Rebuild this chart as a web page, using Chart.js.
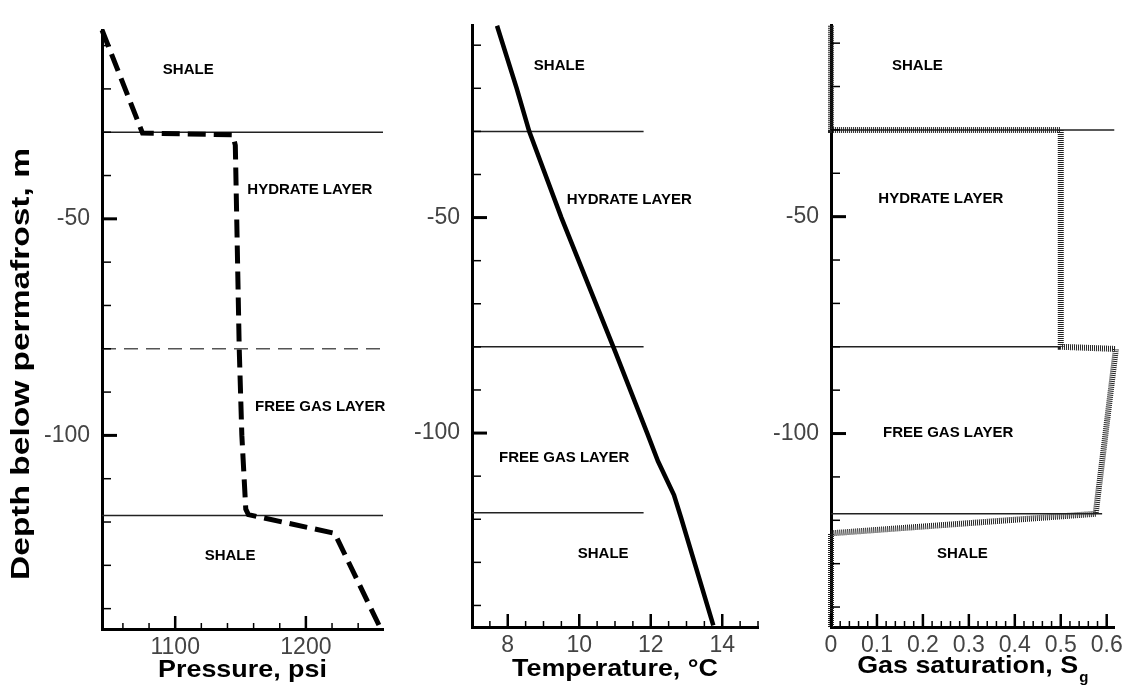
<!DOCTYPE html>
<html>
<head>
<meta charset="utf-8">
<script src="https://cdn.jsdelivr.net/npm/chart.js@4"></script>
<style>
  html, body { margin: 0; padding: 0; background: #fff; }
  #wrap { position: relative; width: 1128px; height: 690px; }
  .panel { position: absolute; top: 0; height: 690px; }
</style>
</head>
<body>
<div id="wrap">
  <div class="panel" style="left:0;width:400px"><canvas id="pressureChart"></canvas></div>
  <div class="panel" style="left:400px;width:370px"><canvas id="tempChart"></canvas></div>
  <div class="panel" style="left:770px;width:358px"><canvas id="gasChart"></canvas></div>
</div>
<script>
// --- data (depth in m below permafrost) ---
const pressurePsi   = [1044, 1075, 1144, 1146, 1149, 1151, 1154, 1156, 1222, 1257];
const pressureDepth = [-6.4, -30.2, -30.6, -33, -80, -100, -117, -118.3, -122.6, -144.5];

const temperatureC     = [7.7, 8.25, 8.6, 9.5, 11.0, 11.9, 12.2, 12.65, 12.85, 13.75];
const temperatureDepth = [-5.5, -20, -30, -50, -81, -100, -106.5, -114.4, -119.7, -144.6];

const gasSaturation = [0, 0, 0.5, 0.5, 0.62, 0.576, 0, 0];
const gasSatDepth   = [-6, -30, -30, -80, -80.5, -118.5, -123, -144.6];

// layer boundaries: hydrate top, hydrate base, free gas base
const layerDepths = [-30, -80, -118.5];
const pressureLayerEnd = [1259, 1259, 1259];
const tempLayerEnd     = [11.8, 11.8, 11.8];
const gasLayerEnd      = [0.617, 0.5, 0.59];

const layerNames = ["SHALE", "HYDRATE LAYER", "FREE GAS LAYER", "SHALE"];
const pressureLabelX = [1110, 1203, 1211, 1142];
const pressureLabelY = [-15.6, -43.3, -93.5, -127.7];
const tempLabelX = [9.44, 11.4, 9.58, 10.67];
const tempLabelY = [-14.7, -45.9, -105.7, -128.1];
const gasLabelX = [0.188, 0.239, 0.255, 0.286];
const gasLabelY = [-15.2, -45.8, -99.8, -127.7];

// tick labels
const depthTicks = [-50, -100];
const pressureTicks = [1100, 1200];
const tempTicks = [8, 10, 12, 14];
const gasTicks = [0, 0.1, 0.2, 0.3, 0.4, 0.5, 0.6];

const FONT = '"Liberation Sans", Arial, sans-serif';

function steps(from, to, step) {
  const out = [];
  for (let v = from; v <= to + 1e-9; v += step) out.push(+v.toFixed(4));
  return out;
}
function pts(xs, ys) { return xs.map((x, i) => ({ x: x, y: ys[i] })); }

// inward tick marks
const innerTicks = {
  id: "innerTicks",
  afterDraw(chart, args, o) {
    const { ctx, chartArea: a, scales: { x, y } } = chart;
    ctx.save();
    ctx.strokeStyle = "#000";
    const mark = (vals, len, w, isX) => {
      ctx.lineWidth = w;
      vals.forEach(v => {
        ctx.beginPath();
        if (isX) {
          const px = x.getPixelForValue(v);
          ctx.moveTo(px, a.bottom); ctx.lineTo(px, a.bottom - len);
        } else {
          const py = y.getPixelForValue(v);
          ctx.moveTo(a.left, py); ctx.lineTo(a.left + len, py);
        }
        ctx.stroke();
      });
    };
    mark(o.xMinor, 6, 1.5, true);
    mark(o.xMajor, 13, 2.5, true);
    mark(o.yMinor, 9, 1.5, false);
    mark(o.yMajor, 15, 3, false);
    ctx.restore();
  }
};

const layerLabels = {
  id: "layerLabels",
  afterDatasetsDraw(chart, args, o) {
    const { ctx, scales: { x, y } } = chart;
    ctx.save();
    ctx.fillStyle = "#000";
    ctx.font = "bold 15px " + FONT;
    ctx.textAlign = "center";
    ctx.textBaseline = "middle";
    layerNames.forEach((t, i) => {
      ctx.fillText(t, x.getPixelForValue(o.xs[i]), y.getPixelForValue(o.ys[i]));
    });
    ctx.restore();
  }
};

const axisText = {
  id: "axisText",
  afterDraw(chart, args, o) {
    const { ctx, chartArea: a } = chart;
    ctx.save();
    ctx.fillStyle = "#000";
    ctx.font = "bold 24px " + FONT;
    ctx.textBaseline = "alphabetic";
    const sx = 1.12;
    const cx = (a.left + a.right) / 2;
    const w = ctx.measureText(o.x).width * sx;
    let subW = 0;
    if (o.sub) {
      ctx.font = "bold 15px " + FONT;
      subW = ctx.measureText(o.sub).width + 1;
      ctx.font = "bold 24px " + FONT;
    }
    const x0 = cx - (w + subW) / 2;
    ctx.save();
    ctx.translate(x0, o.base);
    ctx.scale(sx, 1);
    ctx.textAlign = "left";
    ctx.fillText(o.x, 0, 0);
    ctx.restore();
    if (o.sub) {
      ctx.font = "bold 15px " + FONT;
      ctx.textAlign = "left";
      ctx.fillText(o.sub, x0 + w + 1, o.base + 9);
    }
    if (o.y) {
      ctx.save();
      ctx.font = "bold 25px " + FONT;
      ctx.translate(o.yPos[0], o.yPos[1]);
      ctx.rotate(-Math.PI / 2);
      ctx.scale(1.34, 1);
      ctx.textAlign = "center";
      ctx.textBaseline = "middle";
      ctx.fillText(o.y, 0, 0);
      ctx.restore();
    }
    ctx.restore();
  }
};

function axis(min, max, labels, pad, fit) {
  return {
    type: "linear",
    min: min,
    max: max,
    grid: { display: false, drawTicks: false },
    border: { display: true, color: "#000", width: 3 },
    ticks: {
      font: { size: 23, family: FONT },
      color: "#444",
      padding: pad,
      maxRotation: 0,
      autoSkip: false,
      callback: v => String(v)
    },
    afterBuildTicks: s => { s.ticks = labels.map(v => ({ value: v })); },
    afterFit: fit
  };
}

function makePanel(id, cfg) {
  const boundaries = layerDepths.map((d, i) => ({
    data: [{ x: cfg.xMin, y: d }, { x: cfg.layerEnd[i], y: d }],
    borderColor: cfg.dashMid && i === 1 ? "#555" : "#222",
    borderWidth: 1.5,
    borderDash: cfg.dashMid && i === 1 ? [14, 8] : [],
    pointRadius: 0
  }));
  new Chart(document.getElementById(id).getContext("2d"), {
    type: "line",
    data: {
      datasets: [
        Object.assign({ data: cfg.curve, pointRadius: 0, tension: 0, fill: false, clip: false }, cfg.style)
      ].concat(boundaries)
    },
    options: {
      responsive: true,
      maintainAspectRatio: false,
      animation: false,
      layout: { padding: { top: cfg.top, right: cfg.right, left: 0, bottom: 0 } },
      plugins: {
        legend: { display: false },
        tooltip: { enabled: false },
        innerTicks: {
          xMinor: cfg.xMinor, xMajor: cfg.xTicks,
          yMinor: steps(-140, -10, 10), yMajor: depthTicks
        },
        layerLabels: { xs: cfg.labelX, ys: cfg.labelY },
        axisText: cfg.titles
      },
      scales: {
        x: axis(cfg.xMin, cfg.xMax, cfg.xTicks, 5, s => { s.height = cfg.xAxisH; }),
        y: axis(cfg.yMin, cfg.yMax, depthTicks, 12, s => { s.width = cfg.yAxisW; })
      }
    },
    plugins: [innerTicks, layerLabels, axisText]
  });
}

makePanel("pressureChart", {
  curve: pts(pressurePsi, pressureDepth),
  style: { borderColor: "#000", borderWidth: 5, borderDash: [18, 8] },
  xMin: 1044, xMax: 1259, yMin: -144.7, yMax: -6.4,
  xTicks: pressureTicks, xMinor: steps(1060, 1240, 20),
  layerEnd: pressureLayerEnd, dashMid: true,
  labelX: pressureLabelX, labelY: pressureLabelY,
  top: 30, right: 17, xAxisH: 61, yAxisW: 102,
  titles: { x: "Pressure, psi", base: 677, y: "Depth below permafrost, m", yPos: [22, 364] }
});

makePanel("tempChart", {
  curve: pts(temperatureC, temperatureDepth),
  style: { borderColor: "#000", borderWidth: 4.5 },
  xMin: 7, xMax: 15, yMin: -145, yMax: -5.5,
  xTicks: tempTicks, xMinor: steps(7.5, 15, 0.5),
  layerEnd: tempLayerEnd, dashMid: false,
  labelX: tempLabelX, labelY: tempLabelY,
  top: 10, right: 12, xAxisH: 63, yAxisW: 72,
  titles: { x: "Temperature, \u00B0C", base: 676 }
});

makePanel("gasChart", {
  curve: pts(gasSaturation, gasSatDepth),
  style: { borderColor: "#222", borderWidth: 6, borderDash: [1, 1] },
  xMin: 0, xMax: 0.617, yMin: -144.6, yMax: -6,
  xTicks: gasTicks, xMinor: steps(0.02, 0.6, 0.02),
  layerEnd: gasLayerEnd, dashMid: false,
  labelX: gasLabelX, labelY: gasLabelY,
  top: 10, right: 11, xAxisH: 63, yAxisW: 61,
  titles: { x: "Gas saturation, S", sub: "g", base: 673 }
});
</script>
</body>
</html>
